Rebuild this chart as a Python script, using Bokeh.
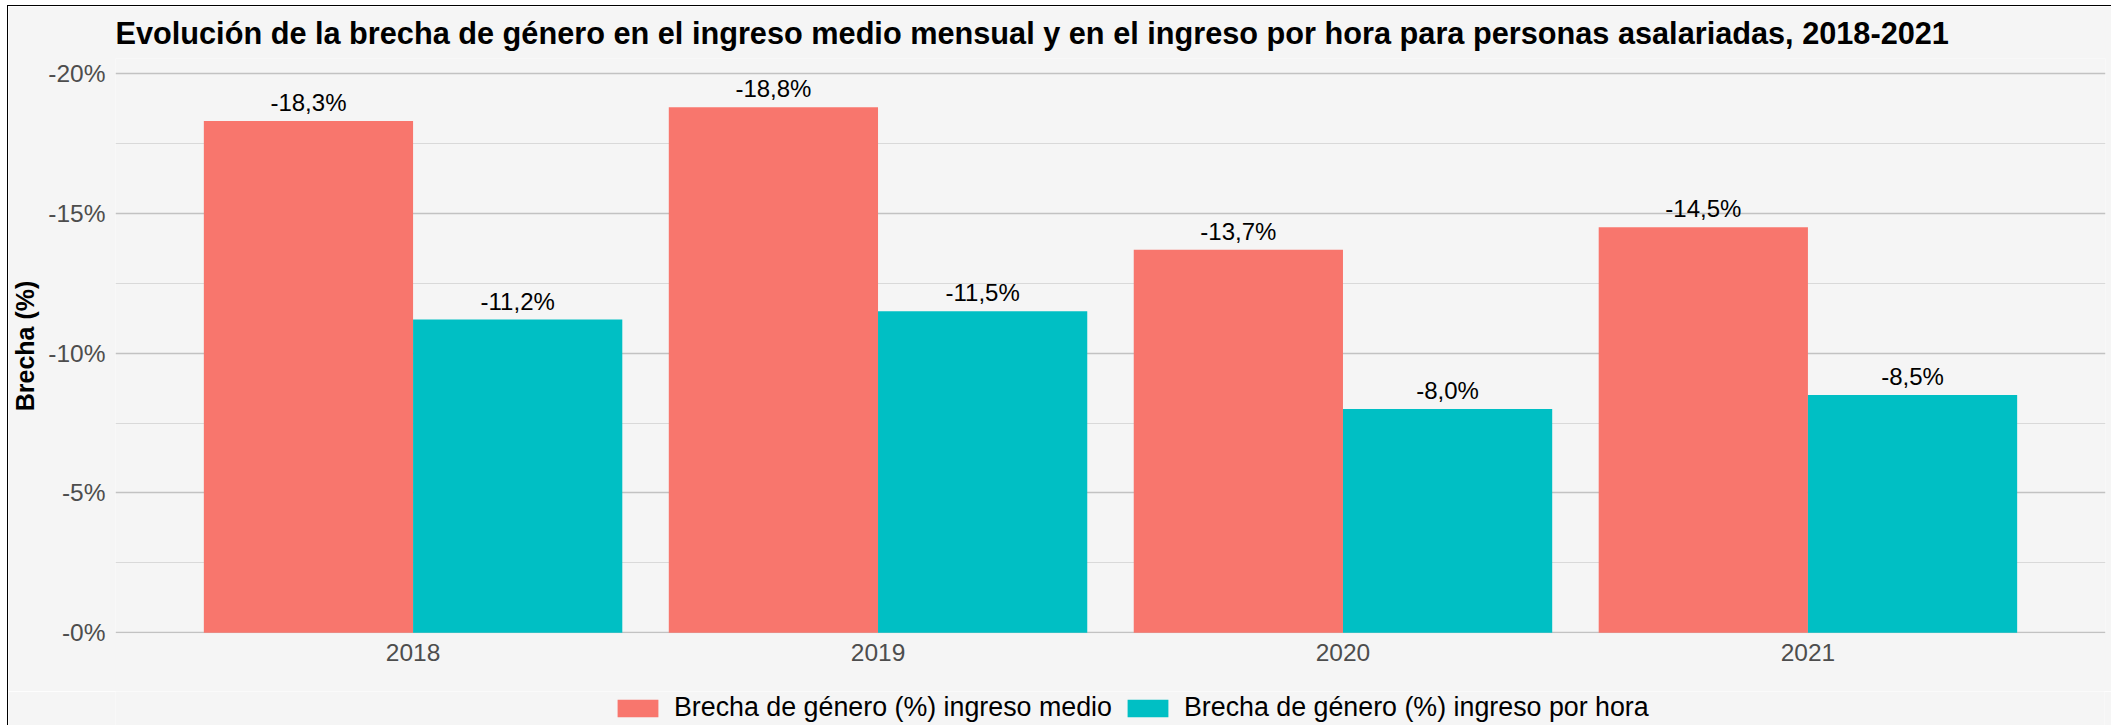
from bokeh.plotting import figure
from bokeh.layouts import column
from bokeh.models import (ColumnDataSource, FactorRange, Range1d, FixedTicker,
                          CustomJSTickFormatter, Legend, LegendItem)
from bokeh.transform import dodge
from bokeh.core.properties import value
from bokeh.embed import file_html
from bokeh.resources import INLINE

# ---- data ----
years = ["2018", "2019", "2020", "2021"]
brecha_ingreso_medio = [-18.3, -18.8, -13.7, -14.5]
brecha_ingreso_hora = [-11.2, -11.5, -8.0, -8.5]
series_names = ["Brecha de género (%) ingreso medio",
                "Brecha de género (%) ingreso por hora"]
y_ticks = [0, -5, -10, -15, -20]
y_minor_ticks = [-2.5, -7.5, -12.5, -17.5]
title_text = ("Evolución de la brecha de género en el ingreso medio mensual y en el "
              "ingreso por hora para personas asalariadas, 2018-2021")
y_title = "Brecha (%)"


def fmt(v):
    return f"{v:.1f}".replace(".", ",") + "%"


src = ColumnDataSource(dict(
    year=years,
    medio=brecha_ingreso_medio,
    hora=brecha_ingreso_hora,
    lab_medio=[fmt(v) for v in brecha_ingreso_medio],
    lab_hora=[fmt(v) for v in brecha_ingreso_hora],
))

FONT = "Liberation Sans"
BG = "#f5f5f5"
RED = "#F8766D"
TEAL = "#00BFC4"

p = figure(
    x_range=FactorRange(*years, range_padding=0.07),
    y_range=Range1d(0.03, -20.54),
    frame_width=1990, frame_height=575,
    output_backend="svg", toolbar_location=None,
    background_fill_color=BG, border_fill_color=BG,
    outline_line_color=None,
    min_border_left=0, min_border_right=7, min_border_top=0, min_border_bottom=58,
)

r1 = p.vbar(x=dodge("year", -0.225, range=p.x_range), top="medio", bottom=0,
            width=0.45, source=src, fill_color=RED, line_color=None)
r2 = p.vbar(x=dodge("year", 0.225, range=p.x_range), top="hora", bottom=0,
            width=0.45, source=src, fill_color=TEAL, line_color=None)

for col, off in (("medio", -0.225), ("hora", 0.225)):
    p.text(x=dodge("year", off, range=p.x_range), y=col, text="lab_" + col,
           source=src, text_align="center", text_baseline="bottom", y_offset=-5,
           text_font=value(FONT), text_font_size="24px", text_color="#000000")

# title
p.title.text = title_text
p.title.text_font = FONT
p.title.text_font_size = "30.7px"
p.title.text_font_style = "bold"
p.title.text_color = "#000000"
p.title.align = "left"
p.title.standoff = 15

# grids
p.xgrid.grid_line_color = None
p.ygrid.grid_line_color = "#c2c2c2"
p.ygrid.grid_line_width = 1.6
p.ygrid.minor_grid_line_color = "#d9d9d9"
p.ygrid.minor_grid_line_width = 1

# y axis
p.yaxis.ticker = FixedTicker(ticks=y_ticks, minor_ticks=y_minor_ticks)
p.yaxis.formatter = CustomJSTickFormatter(code="return '-' + Math.abs(tick) + '%';")
p.yaxis.axis_label = y_title
p.yaxis.axis_label_text_font = FONT
p.yaxis.axis_label_text_font_size = "25px"
p.yaxis.axis_label_text_font_style = "bold"
p.yaxis.axis_label_text_color = "#000000"
p.yaxis.axis_label_standoff = 6

for ax in (p.xaxis[0], p.yaxis[0]):
    ax.axis_line_color = None
    ax.major_tick_line_color = None
    ax.minor_tick_line_color = None
    ax.major_tick_in = 0
    ax.major_tick_out = 0
    ax.minor_tick_in = 0
    ax.minor_tick_out = 0
    ax.major_label_text_font = FONT
    ax.major_label_text_font_size = "24.5px"
    ax.major_label_text_color = "#4d4d4d"
    ax.major_label_standoff = 10

# ---- legend strip below the chart ----
lf = figure(
    width=2103, height=34,
    x_range=Range1d(0, 1), y_range=Range1d(0, 1),
    x_axis_location=None, y_axis_location=None,
    output_backend="svg", toolbar_location=None,
    background_fill_color=BG, border_fill_color=BG, outline_line_color=None,
    min_border_left=0, min_border_right=0, min_border_top=0, min_border_bottom=0,
)
lf.grid.visible = False
# zero-size key glyphs: they only provide the legend swatches
k1 = lf.vbar(x=[0.5], top=[0], bottom=0, width=0, fill_color=RED, line_color=None)
k2 = lf.vbar(x=[0.5], top=[0], bottom=0, width=0, fill_color=TEAL, line_color=None)

legend = Legend(
    items=[LegendItem(label=series_names[0], renderers=[k1]),
           LegendItem(label=series_names[1], renderers=[k2])],
    orientation="horizontal", location=(497, 2),
    glyph_width=51, glyph_height=22, label_height=22,
    label_text_font=FONT, label_text_font_size="26.8px", label_text_color="#000000",
    label_standoff=11, spacing=10, padding=0, margin=0,
    background_fill_alpha=0, border_line_color=None,
)
lf.add_layout(legend, "center")

page = column(p, lf, spacing=0,
              styles={"margin-left": "7px", "margin-top": "5px",
                      "border-left": "1px solid #000", "border-top": "1px solid #000"})

open("out.html", "w").write(file_html(page, INLINE))
